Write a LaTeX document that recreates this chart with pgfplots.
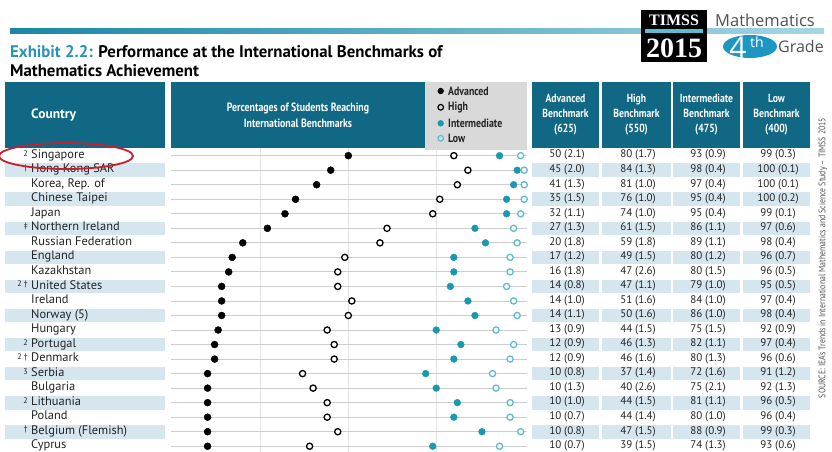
\documentclass[border=0pt]{standalone}
\usepackage{pgfplots}
\pgfplotsset{compat=1.18}
\usepackage{pgfplotstable}
\usepackage{fontspec}
\setmainfont{PT Sans}
\newfontfamily\cond[FakeStretch=0.82]{PT Sans}
\newfontfamily\tserif{Liberation Serif}
\newfontfamily\hfont{Open Sans}
\definecolor{hdr}{RGB}{16,104,132}
\definecolor{stripe}{RGB}{213,230,239}
\definecolor{legbg}{RGB}{217,217,217}
\definecolor{ttl}{RGB}{43,146,182}
\definecolor{interc}{RGB}{25,152,176}
\definecolor{lowc}{RGB}{95,188,208}
\definecolor{txt}{RGB}{35,35,35}
\definecolor{rowline}{RGB}{205,205,205}
\definecolor{vgrid}{RGB}{228,228,228}
\definecolor{ruleL}{RGB}{25,135,165}
\definecolor{ruleR}{RGB}{165,214,230}
\definecolor{ell}{RGB}{200,30,45}
\definecolor{fourth}{RGB}{30,150,195}
\definecolor{gtxt}{RGB}{80,80,80}

\pgfplotstableread{
row adv high inter low
0  50 80 93 99
1  45 84 98 100
2  41 81 97 100
3  35 76 95 100
4  32 74 95 99
5  27 61 86 97
6  20 59 89 98
7  17 49 80 96
8  16 47 80 96
9  14 47 79 95
10 14 51 84 97
11 14 50 86 98
12 13 44 75 92
13 12 46 82 97
14 12 46 80 96
15 10 37 72 91
16 10 40 75 92
17 10 44 81 96
18 10 44 80 96
19 10 47 88 99
20 10 39 74 93
}\data

\begin{document}
\begin{tikzpicture}[x=1pt,y=1pt]
\useasboundingbox (0,0) rectangle (832,-452);
\begin{scope}
\clip (0,0) rectangle (832,-452);

% top rule
\shade[left color=ruleL, right color=ruleR] (10,-28.3) rectangle (824,-33.3);

% TIMSS logo
\fill[black] (641,-10) rectangle (707,-62);
\fill[lowc] (645,-29.3) rectangle (703,-33.3);
\node[text=white, inner sep=0] at (674,-20) {\tserif\bfseries\fontsize{16}{16}\selectfont TIMSS};
\node[text=white, inner sep=0] at (674,-48) {\tserif\bfseries\fontsize{28}{28}\selectfont 2015};
\node[anchor=west, text=gtxt, inner sep=0] at (715,-20) {\hfont\fontsize{16.5}{17}\selectfont Mathematics};
\fill[fourth] (750,-46.5) ellipse (27 and 11.5);
\node[text=white, inner sep=0] at (738,-47.5) {\hfont\fontsize{30}{30}\selectfont 4};
\node[text=white, inner sep=0] at (757,-42) {\hfont\fontsize{14}{14}\selectfont th};
\node[anchor=west, text=gtxt, inner sep=0] at (778,-46.5) {\hfont\fontsize{16}{17}\selectfont Grade};

% title
\node[anchor=base west, inner sep=0] at (10,-58) {\bfseries\fontsize{16.8}{17}\selectfont\textcolor{ttl}{Exhibit 2.2:} Performance at the International Benchmarks of};
\node[anchor=base west, inner sep=0] at (10,-76) {\bfseries\fontsize{16.8}{17}\selectfont Mathematics Achievement};

% header boxes
\fill[hdr] (5,-82) rectangle (165,-148);
\node[anchor=west, text=white, inner sep=0] at (31,-115) {\bfseries\fontsize{13.5}{13.5}\selectfont Country};
\fill[hdr] (171,-82) rectangle (425,-148);
\node[text=white, align=center, inner sep=0, font=\cond\bfseries\fontsize{12}{15.5}\selectfont] at (298,-115.5) {Percentages of Students Reaching\\International Benchmarks};
\fill[legbg] (425,-82) rectangle (527,-150);
\fill[black] (440.7,-91) circle (3.2);
\draw[black, line width=1.2] (440.7,-107.3) circle (2.8);
\fill[interc] (440.7,-123.3) circle (3.2);
\draw[lowc, line width=1.2] (440.7,-138.3) circle (2.8);
\foreach \yy/\lab in {91/Advanced,107.3/High,123.3/Intermediate,138.3/Low}{
  \node[anchor=west, inner sep=0, text=txt, font=\cond\bfseries\fontsize{12}{12}\selectfont] at (448,-\yy) {\lab};
}
\foreach \xa/\xb/\lab/\sc in {532/599/Advanced/625, 602/671/High/550, 673/740/Intermediate/475, 743/810/Low/400}{
  \fill[hdr] (\xa,-82) rectangle (\xb,-148);
  \node[text=white, align=center, inner sep=0, font=\cond\bfseries\fontsize{11.8}{15}\selectfont] at ({(\xa+\xb)/2},-115) {\lab\\Benchmark\\(\sc)};
}

% stripes
\foreach \i in {1,3,...,19}{
  \pgfmathsetmacro{\yc}{-(155.7+14.53*\i)}
  \fill[stripe] (5,\yc+6.8) rectangle (165,\yc-6.8);
  \foreach \xa/\xb in {532/599, 602/671, 673/740, 743/810}{
    \fill[stripe] (\xa,\yc+6.8) rectangle (\xb,\yc-6.8);
  }
}

% country names
\foreach \i/\nm/\fn in {0/Singapore/2, 1/Hong Kong SAR/†, 2/{Korea, Rep. of}/{}, 3/Chinese Taipei/{}, 4/Japan/{}, 5/Northern Ireland/‡, 6/Russian Federation/{}, 7/England/{}, 8/Kazakhstan/{}, 9/United States/{2 †}, 10/Ireland/{}, 11/Norway (5)/{}, 12/Hungary/{}, 13/Portugal/2, 14/Denmark/{2 †}, 15/Serbia/3, 16/Bulgaria/{}, 17/Lithuania/2, 18/Poland/{}, 19/Belgium (Flemish)/†, 20/Cyprus/{}}{
  \pgfmathsetmacro{\yc}{-(155.7+14.53*\i)}
  \node[anchor=west, inner sep=0, text=txt] at (31,\yc) {\fontsize{12.4}{12}\selectfont \nm\strut};
  \node[anchor=east, inner sep=0, text=txt] at (28,\yc+2) {\fontsize{8}{8}\selectfont \fn};
}

% table values
\foreach \i/\a/\b/\c/\d in {0/50 (2.1)/80 (1.7)/93 (0.9)/99 (0.3),
 1/45 (2.0)/84 (1.3)/98 (0.4)/100 (0.1),
 2/41 (1.3)/81 (1.0)/97 (0.4)/100 (0.1),
 3/35 (1.5)/76 (1.0)/95 (0.4)/100 (0.2),
 4/32 (1.1)/74 (1.0)/95 (0.4)/99 (0.1),
 5/27 (1.3)/61 (1.5)/86 (1.1)/97 (0.6),
 6/20 (1.8)/59 (1.8)/89 (1.1)/98 (0.4),
 7/17 (1.2)/49 (1.5)/80 (1.2)/96 (0.7),
 8/16 (1.8)/47 (2.6)/80 (1.5)/96 (0.5),
 9/14 (0.8)/47 (1.1)/79 (1.0)/95 (0.5),
 10/14 (1.0)/51 (1.6)/84 (1.0)/97 (0.4),
 11/14 (1.1)/50 (1.6)/86 (1.0)/98 (0.4),
 12/13 (0.9)/44 (1.5)/75 (1.5)/92 (0.9),
 13/12 (0.9)/46 (1.3)/82 (1.1)/97 (0.4),
 14/12 (0.9)/46 (1.6)/80 (1.3)/96 (0.6),
 15/10 (0.8)/37 (1.4)/72 (1.6)/91 (1.2),
 16/10 (1.3)/40 (2.6)/75 (2.1)/92 (1.3),
 17/10 (1.0)/44 (1.5)/81 (1.1)/96 (0.5),
 18/10 (0.7)/44 (1.4)/80 (1.0)/96 (0.4),
 19/10 (0.8)/47 (1.5)/88 (0.9)/99 (0.3),
 20/10 (0.7)/39 (1.5)/74 (1.3)/93 (0.6)}{
  \pgfmathsetmacro{\yc}{-(155.7+14.53*\i)}
  \node[inner sep=0, text=txt] at (567,\yc) {\fontsize{11}{11}\selectfont \a\strut};
  \node[inner sep=0, text=txt] at (638,\yc) {\fontsize{11}{11}\selectfont \b\strut};
  \node[inner sep=0, text=txt] at (708,\yc) {\fontsize{11}{11}\selectfont \c\strut};
  \node[inner sep=0, text=txt] at (778,\yc) {\fontsize{11}{11}\selectfont \d\strut};
}

% dot plot
\begin{axis}[at={(171pt,-148.4pt)}, anchor=north west, scale only axis,
  width=356pt, height=305.1pt,
  xmin=-0.4, xmax=100.8, ymin=-0.5, ymax=20.5, y dir=reverse,
  axis line style={draw=none}, tick style={draw=none},
  xtick={25,50,75}, ytick={0,...,20},
  xticklabels={}, yticklabels={},
  xmajorgrids, ymajorgrids,
  x grid style={vgrid, line width=0.8pt},
  y grid style={rowline, line width=0.8pt},
  clip=false]
\addplot[only marks, mark=*, mark size=3.5pt, black] table[x=adv, y=row] {\data};
\addplot[only marks, mark=*, mark size=3.1pt, draw=black, fill=white, line width=1.3pt] table[x=high, y=row] {\data};
\addplot[only marks, mark=*, mark size=3.4pt, interc] table[x=inter, y=row] {\data};
\addplot[only marks, mark=*, mark size=3.1pt, draw=lowc, fill=white, line width=1.3pt] table[x=low, y=row] {\data};
\end{axis}

% source
\node[rotate=90, text=gtxt, inner sep=0] at (823,-258) {\cond\fontsize{9.5}{10}\selectfont SOURCE: IEA's Trends in International Mathematics and Science Study – TIMSS 2015};

% red ellipse
\draw[ell, line width=1.8pt] (66,-156) ellipse (67 and 13);
\end{scope}
\end{tikzpicture}
\end{document}
